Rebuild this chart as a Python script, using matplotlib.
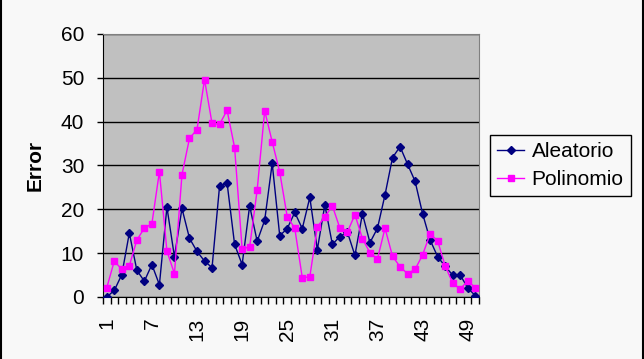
import numpy as np
import matplotlib
matplotlib.use("Agg")
import matplotlib.pyplot as plt
from matplotlib.lines import Line2D

plt.rcParams['font.family'] = ['Liberation Sans', 'DejaVu Sans']

puntos = np.arange(1, 51)
aleatorio = [0, 1.5, 5.1, 14.6, 6.1, 3.6, 7.4, 2.8, 20.5, 9.2,
             20.2, 13.4, 10.4, 8.2, 6.7, 25.3, 26.0, 12.0, 7.4, 20.8,
             12.7, 17.5, 30.5, 14.0, 15.6, 19.3, 15.6, 22.7, 10.8, 21.0,
             12.0, 13.8, 14.8, 9.5, 19.0, 12.4, 15.7, 23.3, 31.8, 34.3,
             30.3, 26.4, 19.0, 13.0, 9.2, 7.0, 5.0, 5.0, 2.1, 0.3]
polinomio = [2.1, 8.2, 6.3, 7.1, 13.0, 15.7, 16.7, 28.6, 10.5, 5.3,
             27.9, 36.2, 38.2, 49.6, 39.6, 39.4, 42.6, 34.1, 11.0, 11.4,
             24.4, 42.5, 35.4, 28.5, 18.3, 15.7, 4.4, 4.6, 16.0, 18.3,
             20.8, 15.7, 14.8, 18.8, 13.3, 10.1, 8.7, 15.7, 9.3, 6.9,
             5.3, 6.3, 9.6, 14.4, 12.8, 7.1, 3.2, 1.8, 3.7, 2.1]
etiquetas_x = [1, 7, 13, 19, 25, 31, 37, 43, 49]

fondo = '#f8f8f8'
fs = 15
fig = plt.figure(figsize=(6.44, 3.59), dpi=100, facecolor=fondo)
ax = fig.add_axes([103/644, 62/359, 376/644, 263/359])
ax.set_facecolor('#c0c0c0')

ax.plot(puntos, aleatorio, color='#000080', lw=1, marker='D', ms=4.5,
        mec='#000080', mfc='#000080', label='Aleatorio', zorder=3)
ax.plot(puntos, polinomio, color='#ff00ff', lw=1, marker='s', ms=5,
        mec='#ff00ff', mfc='#ff00ff', label='Polinomio', zorder=3)

ax.set_xlim(0.5, 50.5)
ax.set_ylim(0, 60)
ax.set_yticks(np.arange(0, 61, 10))
ax.yaxis.grid(True, color='black', lw=1)
ax.set_axisbelow(True)

# marcas entre categorias, etiquetas centradas
ax.set_xticks(np.arange(0.5, 51, 1))
ax.set_xticklabels([])
ax.set_xticks(etiquetas_x, minor=True)
ax.set_xticklabels([str(e) for e in etiquetas_x], minor=True, rotation=90, fontsize=fs)
ax.tick_params(axis='x', which='major', length=5, width=1, direction='out')
ax.tick_params(axis='x', which='minor', length=0, pad=15)
ax.tick_params(axis='y', length=4.5, width=1, labelsize=fs, pad=9)

for lado in ['top', 'right']:
    ax.spines[lado].set_color('#808080')
for lado in ['left', 'bottom']:
    ax.spines[lado].set_color('black')

ax.set_ylabel('Error', fontsize=fs, fontweight='bold', labelpad=12)

leg = ax.legend(loc='center left', bbox_to_anchor=(1.029, 0.5), borderaxespad=0,
                fontsize=fs, frameon=True, fancybox=False, edgecolor='black',
                facecolor=fondo, framealpha=1, handlelength=1.3,
                handletextpad=0.35, borderpad=0.35, labelspacing=0.45)
leg.get_frame().set_linewidth(1)

# borde negro a los lados de la figura
fig.add_artist(Line2D([0.5/644, 0.5/644], [0, 1], color='black', lw=1.5))
fig.add_artist(Line2D([642.5/644, 642.5/644], [0, 1], color='black', lw=1.5))

fig.savefig('out.png', dpi=100, facecolor=fondo)
